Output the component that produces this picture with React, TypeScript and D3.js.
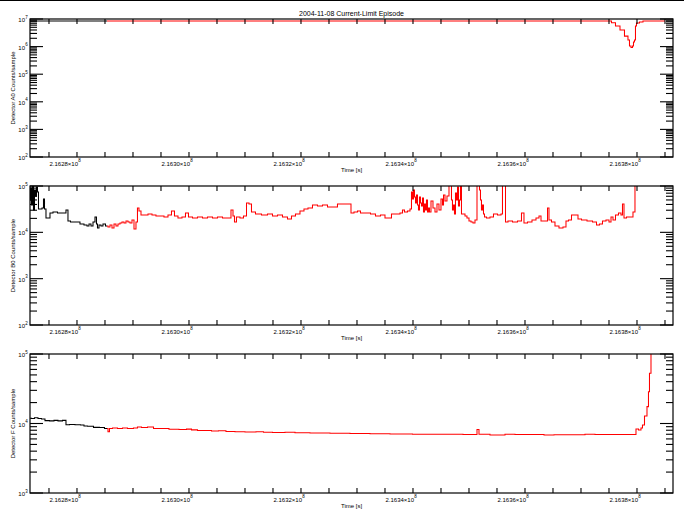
import React from 'react';
import * as d3 from 'd3';

const W = 684;
const H = 518;
const TITLE = '2004-11-08 Current-Limit Episode';
const X_LABEL = 'Time [s]';
const X_DOMAIN = [216271610, 216386430];
const X_LABEL_TICKS = [216280000, 216300000, 216320000, 216340000, 216360000, 216380000];
const X_MINOR_STEP = 5000;
const COLOR_SWITCH = 216285360;

// Detector A0
const a0Times = [216271610, 216285360, 216375180, 216375710, 216376610, 216377320, 216378210, 216378570, 216378750, 216379110, 216379290, 216379460, 216379640, 216379820, 216380000, 216380890, 216381250, 216385000];
const a0Values = [8.4e6, 8.4e6, 8.4e6, 7.3e6, 5.6e6, 4.0e6, 2.4e6, 1.74e6, 1.05e6, 9.3e5, 1.05e6, 1.47e6, 1.74e6, 5.6e6, 7.2e6, 7.8e6, 8.4e6, 8.4e6];

// Detector B0
const b0Times = [
  216271610, 216271790, 216271960, 216272140, 216272320, 216272500, 216272680, 216272860, 216273040, 216273210,
  216273570, 216273930, 216274110, 216274290, 216274640, 216275000, 216275360, 216276070, 216276960, 216277860,
  216278210, 216278570, 216279110, 216280180, 216280890, 216281610, 216281960, 216282320, 216282680, 216283040,
  216283390, 216283570, 216283750, 216284110, 216284460, 216284820, 216285360, 216285710, 216286070, 216286430,
  216286790, 216287140, 216287500, 216287860, 216288210, 216288570, 216288930, 216289290, 216289640, 216290000,
  216290360, 216290710, 216290890, 216291250, 216291610, 216292320, 216293040, 216293750, 216294460, 216295180,
  216295890, 216296610, 216297140, 216297680, 216298390, 216299110, 216299640, 216300180, 216301070, 216301960,
  216302860, 216303750, 216304640, 216305540, 216306430, 216307320, 216307680, 216308040, 216308210, 216308750,
  216309460, 216310000, 216310540, 216310890, 216311430, 216312320, 216313570, 216314460, 216315360, 216316250,
  216317140, 216318040, 216318570, 216319460, 216320180, 216320890, 216321610, 216322500, 216323390, 216324290,
  216325180, 216326070, 216326960, 216327860, 216328750, 216329110, 216329820, 216330360, 216330890, 216331960,
  216332860, 216333750, 216334640, 216335360, 216335890, 216336430, 216337320, 216338040, 216338210, 216338750,
  216339290, 216339640, 216339820, 216340000, 216340180, 216340360, 216340540, 216340710, 216340890, 216341070,
  216341250, 216341430, 216341610, 216341790, 216341960, 216342140, 216342320, 216342500, 216342680, 216342860,
  216343040, 216343390, 216343750, 216344110, 216344460, 216344820, 216345180, 216345360, 216345540, 216345890,
  216346250, 216346610, 216346790, 216346960, 216347140, 216347320, 216347500, 216347680, 216347860, 216348040,
  216348210, 216348390, 216348570, 216348750, 216349110, 216349460, 216349820, 216350180, 216350540, 216350890,
  216351250, 216351610, 216351790, 216351960, 216352140, 216352320, 216352500, 216352680, 216352860, 216353390,
  216354110, 216354640, 216355540, 216355890, 216356070, 216356430, 216356610, 216357320, 216358210, 216359110,
  216359640, 216360000, 216360890, 216361610, 216362320, 216362680, 216363040, 216363930, 216364110, 216364460,
  216365000, 216365710, 216366430, 216367140, 216367500, 216368040, 216368570, 216369290, 216369640, 216370540,
  216371610, 216372500, 216373040, 216373570, 216374110, 216374820, 216375180, 216375540, 216375890, 216376430,
  216376960, 216377320, 216377500, 216377860, 216378390, 216379110, 216379460, 216379820, 216380000,
];
const b0Values = [
  4.99e4, 9.05e4, 3.89e4, 1.0e5, 3.03e4, 8.2e4, 6.08e4, 9.52e4, 7.42e4, 3.19e4,
  3.19e4, 3.35e4, 5.24e4, 3.19e4, 2.04e4, 2.04e4, 2.61e4, 2.75e4, 2.61e4, 2.61e4,
  3.03e4, 1.76e4, 1.67e4, 1.67e4, 1.51e4, 1.44e4, 1.37e4, 1.51e4, 1.37e4, 1.67e4,
  2.14e4, 1.51e4, 1.24e4, 1.44e4, 1.37e4, 1.51e4, 1.37e4, 1.30e4, 1.44e4, 1.24e4,
  1.51e4, 1.37e4, 1.51e4, 1.59e4, 1.67e4, 1.59e4, 1.76e4, 1.67e4, 1.59e4, 1.85e4,
  1.18e4, 1.67e4, 3.35e4, 2.89e4, 2.37e4, 2.37e4, 2.49e4, 2.37e4, 2.25e4, 2.25e4,
  2.14e4, 2.37e4, 2.89e4, 2.25e4, 2.04e4, 2.14e4, 2.61e4, 2.14e4, 2.04e4, 2.14e4,
  2.04e4, 2.14e4, 2.04e4, 2.14e4, 2.04e4, 2.04e4, 3.03e4, 2.25e4, 1.67e4, 2.14e4,
  2.04e4, 2.25e4, 4.30e4, 4.09e4, 2.75e4, 2.49e4, 2.37e4, 2.49e4, 2.25e4, 2.37e4,
  2.14e4, 1.94e4, 2.25e4, 2.49e4, 2.89e4, 3.19e4, 3.35e4, 3.89e4, 3.70e4, 3.89e4,
  3.52e4, 3.52e4, 4.09e4, 4.09e4, 4.09e4, 2.61e4, 2.75e4, 2.89e4, 2.61e4, 2.61e4,
  2.49e4, 2.25e4, 2.37e4, 2.04e4, 2.04e4, 2.49e4, 2.49e4, 2.61e4, 3.03e4, 2.75e4,
  2.89e4, 3.19e4, 7.42e4, 5.24e4, 8.2e4, 5.79e4, 4.30e4, 6.39e4, 3.89e4, 3.03e4,
  5.79e4, 4.30e4, 3.70e4, 5.51e4, 2.75e4, 4.09e4, 3.03e4, 4.99e4, 2.75e4, 3.35e4,
  2.75e4, 4.75e4, 3.35e4, 2.75e4, 4.09e4, 3.03e4, 5.24e4, 3.89e4, 6.39e4, 4.75e4,
  6.08e4, 1.3e5, 1.3e5, 4.99e4, 3.03e4, 3.89e4, 2.49e4, 7.06e4, 4.99e4, 9.52e4,
  3.70e4, 4.99e4, 1.3e5, 2.49e4, 2.49e4, 2.25e4, 2.04e4, 1.76e4, 1.67e4, 1.59e4,
  1.85e4, 1.3e5, 1.3e5, 8.2e4, 4.99e4, 3.03e4, 3.89e4, 2.49e4, 2.14e4, 2.04e4,
  2.14e4, 2.49e4, 2.37e4, 2.49e4, 1.3e5, 1.3e5, 1.67e4, 1.76e4, 1.67e4, 1.76e4,
  2.61e4, 1.59e4, 1.67e4, 1.85e4, 2.04e4, 2.25e4, 1.76e4, 1.76e4, 3.35e4, 1.85e4,
  1.67e4, 1.37e4, 1.24e4, 1.30e4, 1.76e4, 1.85e4, 2.37e4, 2.37e4, 1.94e4, 1.85e4,
  1.76e4, 1.67e4, 1.44e4, 1.51e4, 1.76e4, 1.85e4, 1.67e4, 2.14e4, 1.85e4, 2.37e4,
  2.61e4, 2.37e4, 4.09e4, 2.04e4, 2.14e4, 2.14e4, 2.75e4, 1.3e5, 1.3e5,
];

// Detector F
const fTimes = [
  216271610, 216272140, 216272680, 216273390, 216273930, 216274640, 216275540, 216276250, 216276960, 216277860,
  216278210, 216279110, 216280180, 216281070, 216281430, 216282320, 216283570, 216284460, 216285360, 216285710,
  216285890, 216286790, 216287680, 216288570, 216289460, 216290710, 216290890, 216292140, 216293040, 216294290,
  216295710, 216297140, 216299290, 216299820, 216301070, 216301960, 216303390, 216304640, 216305890, 216307320,
  216309110, 216310890, 216313040, 216313570, 216316250, 216318040, 216319820, 216323390, 216326960, 216330540,
  216334110, 216337680, 216342140, 216346610, 216351250, 216351610, 216351960, 216355540, 216357320, 216359110,
  216362680, 216364110, 216366250, 216369820, 216371610, 216373390, 216376960, 216379640, 216380000, 216380540,
  216380890, 216381070, 216381610, 216381960, 216382140, 216382320, 216382680,
];
const fValues = [
  1.19e4, 1.18e4, 1.21e4, 1.18e4, 1.16e4, 1.10e4, 1.09e4, 1.11e4, 1.09e4, 1.11e4,
  9.6e3, 9.7e3, 9.6e3, 9.5e3, 9.2e3, 9.1e3, 8.8e3, 8.75e3, 8.5e3, 7.6e3,
  8.47e3, 8.6e3, 8.47e3, 8.6e3, 8.47e3, 8.6e3, 8.9e3, 8.75e3, 8.9e3, 8.5e3,
  8.47e3, 8.26e3, 8.2e3, 8.3e3, 8.1e3, 7.93e3, 7.95e3, 7.8e3, 7.85e3, 7.67e3,
  7.6e3, 7.55e3, 7.6e3, 7.5e3, 7.43e3, 7.5e3, 7.35e3, 7.30e3, 7.25e3, 7.18e3,
  7.1e3, 7.06e3, 7.0e3, 7.0e3, 6.95e3, 8.2e3, 7.0e3, 6.83e3, 7.0e3, 6.95e3,
  6.95e3, 6.83e3, 6.88e3, 6.90e3, 7.0e3, 6.95e3, 6.95e3, 6.95e3, 8.34e3, 8.06e3,
  8.6e3, 9.5e3, 1.28e4, 1.75e4, 2.87e4, 5.29e4, 1.6e5,
];

const panelLabels = ['Detector A0 Counts/sample', 'Detector B0 Counts/sample', 'Detector F Counts/sample'];
const panelYDomains = [[1e2, 1e7], [1e2, 1e5], [1e3, 1e5]];
const panelTimes = [a0Times, b0Times, fTimes];
const panelValues = [a0Values, b0Values, fValues];

const LEFT = 30;
const RIGHT = 673;
const PANEL_BOXES = [[19, 157], [186, 325], [354, 493]];
const FONT = '"Liberation Sans", Arial, sans-serif';

type Pt = { t: number; v: number };

function Panel({ idx }: { idx: number }) {
  const [top, bottom] = PANEL_BOXES[idx];
  const x = d3.scaleLinear().domain(X_DOMAIN).range([LEFT, RIGHT]);
  const y = d3.scaleLog().domain(panelYDomains[idx]).range([bottom, top]);
  const pts: Pt[] = panelTimes[idx].map((t, i) => ({ t, v: panelValues[idx][i] }));
  const black = pts.filter((p) => p.t <= COLOR_SWITCH);
  const red = pts.filter((p) => p.t >= COLOR_SWITCH);
  const line = d3
    .line<Pt>()
    .x((d) => x(d.t))
    .y((d) => y(d.v))
    .curve(d3.curveStep);
  const clipId = `clip${idx}`;

  const [lo, hi] = panelYDomains[idx];
  const eLo = Math.round(Math.log10(lo));
  const eHi = Math.round(Math.log10(hi));
  const majors: number[] = [];
  const minors: number[] = [];
  for (let e = eLo; e <= eHi; e++) {
    majors.push(Math.pow(10, e));
    if (e < eHi) for (let m = 2; m <= 9; m++) minors.push(m * Math.pow(10, e));
  }
  const xMinor: number[] = [];
  for (let t = Math.ceil(X_DOMAIN[0] / X_MINOR_STEP) * X_MINOR_STEP; t <= X_DOMAIN[1]; t += X_MINOR_STEP) xMinor.push(t);

  const midY = (top + bottom) / 2;
  return (
    <g>
      <defs>
        <clipPath id={clipId}>
          <rect x={LEFT} y={top} width={RIGHT - LEFT} height={bottom - top} />
        </clipPath>
      </defs>
      <g clipPath={`url(#${clipId})`} fill="none" strokeWidth={1.05} strokeLinejoin="miter">
        <path d={line(black) || ''} stroke="#000" />
        <path d={line(red) || ''} stroke="#ff0000" />
      </g>
      <rect x={LEFT} y={top} width={RIGHT - LEFT} height={bottom - top} fill="none" stroke="#000" strokeWidth={1.2} />
      {majors.map((v) => (
        <g key={`M${v}`}>
          <line x1={LEFT} x2={LEFT + 13} y1={y(v)} y2={y(v)} stroke="#000" strokeWidth={1.1} />
          <line x1={RIGHT} x2={RIGHT - 13} y1={y(v)} y2={y(v)} stroke="#000" strokeWidth={1.1} />
          <text x={25} y={y(v) + 3} textAnchor="end" fontSize={6} fontFamily={FONT}>10</text>
          <text x={25.3} y={y(v) - 0.5} textAnchor="start" fontSize={4.5} fontFamily={FONT}>{Math.round(Math.log10(v))}</text>
        </g>
      ))}
      {minors.map((v) => (
        <g key={`m${v}`}>
          <line x1={LEFT} x2={LEFT + 7} y1={y(v)} y2={y(v)} stroke="#000" strokeWidth={1.1} />
          <line x1={RIGHT} x2={RIGHT - 7} y1={y(v)} y2={y(v)} stroke="#000" strokeWidth={1.1} />
        </g>
      ))}
      {xMinor.map((t) => (
        <g key={`x${t}`}>
          <line x1={x(t)} x2={x(t)} y1={bottom} y2={bottom - 5} stroke="#000" strokeWidth={1.1} />
          <line x1={x(t)} x2={x(t)} y1={top} y2={top + 5} stroke="#000" strokeWidth={1.1} />
        </g>
      ))}
      {X_LABEL_TICKS.map((t) => (
        <g key={`xl${t}`}>
          <text x={x(t) + 1} y={bottom + 8.5} textAnchor="end" fontSize={6} fontFamily={FONT}>
            {`${(t / 1e8).toFixed(4)}×10`}
          </text>
          <text x={x(t) + 1.3} y={bottom + 5} textAnchor="start" fontSize={4.5} fontFamily={FONT}>8</text>
        </g>
      ))}
      <text x={(LEFT + RIGHT) / 2} y={bottom + 15} textAnchor="middle" fontSize={6} fontFamily={FONT}>
        {X_LABEL}
      </text>
      <text
        transform={`translate(15,${midY}) rotate(-90)`}
        textAnchor="middle"
        fontSize={6}
        fontFamily={FONT}
      >
        {panelLabels[idx]}
      </text>
    </g>
  );
}

export default function App() {
  return (
    <svg
      width={W}
      height={H}
      viewBox={`0 0 ${W} ${H}`}
      style={{ position: 'absolute', left: 0, top: 0, background: '#fff' }}
    >
      <rect x={0} y={0} width={W} height={H} fill="#fff" />
      <line x1={0} x2={W} y1={0.5} y2={0.5} stroke="#000" strokeWidth={1} />
      <text x={(LEFT + RIGHT) / 2} y={16} textAnchor="middle" fontSize={7} fontFamily={FONT}>
        {TITLE}
      </text>
      {[0, 1, 2].map((i) => (
        <Panel key={i} idx={i} />
      ))}
    </svg>
  );
}
